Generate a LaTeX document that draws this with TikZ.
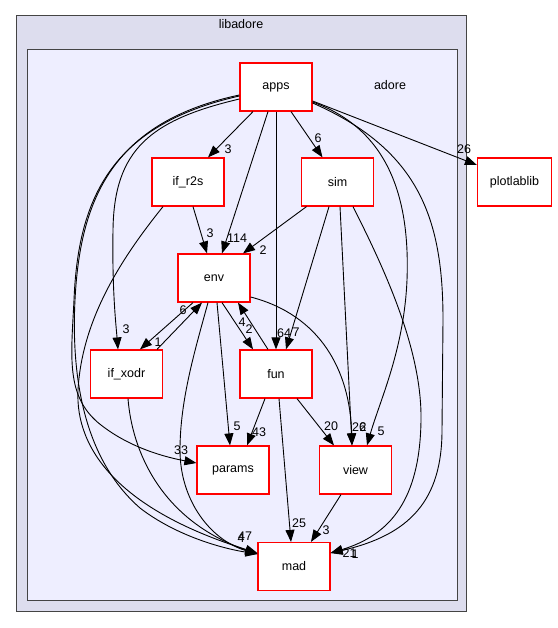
\documentclass[tikz,border=0pt]{standalone}
\usepackage{fontspec}
\setmainfont{Liberation Sans}
\usetikzlibrary{arrows.meta}
\definecolor{outerc}{HTML}{DDDDEE}
\definecolor{innerc}{HTML}{EEEEFF}
\definecolor{borderc}{HTML}{444444}
\begin{document}
\begin{tikzpicture}[x=1pt,y=-1pt,
  dnode/.style={draw=red, line width=1.2pt, fill=white, minimum width=72pt, minimum height=48pt, inner sep=0pt, font=\fontsize{12.5}{15}\selectfont},
  lbl/.style={inner sep=0pt, font=\fontsize{12.5}{15}\selectfont},
  edge/.style={draw=black, line width=0.9pt, -{Triangle[length=12pt,width=9pt]}},
  cluster/.style={draw=borderc, line width=1pt}
  ]
\useasboundingbox (0,0) rectangle (557,628);
\draw[cluster, fill=outerc] (16,16) rectangle (466,611);
\draw[cluster, fill=innerc] (27,50) rectangle (457,600);
\node[lbl] (libl) at (241,24) {libadore};
\node[lbl] (adl) at (390,85) {adore};

\node[dnode] (apps) at (276,87) {apps};
\node[dnode] (r2s) at (188,182) {if\_r2s};
\node[dnode] (sim) at (337.5,182) {sim};
\node[dnode, minimum width=74pt] (plot) at (514.5,182) {plotlablib};
\node[dnode] (env) at (214,278) {env};
\node[dnode] (xodr) at (126.5,374) {if\_xodr};
\node[dnode] (fun) at (276,374) {fun};
\node[dnode] (params) at (233,470) {params};
\node[dnode] (view) at (355.5,470) {view};
\node[dnode] (mad) at (294,566.5) {mad};

% straight edges
\draw[edge] ([xshift=-23pt]apps.south) -- ([xshift=20pt]r2s.north);
\draw[edge] ([xshift=15pt]apps.south) -- ([xshift=-15pt]sim.north);
\draw[edge] ([xshift=-8pt]apps.south) -- ([xshift=8pt]env.north);
\draw[edge] (apps.south) -- (fun.north);
\draw[edge] ([yshift=-14pt]apps.east) -- ([yshift=17pt]plot.west);
\draw[edge] ([xshift=-31pt]sim.south) -- ([xshift=29pt]env.north);
\draw[edge] ([xshift=5pt]r2s.south) -- ([xshift=-7pt]env.north);
\draw[edge] ([xshift=-8.5pt]sim.south) -- ([xshift=10pt]fun.north);
\draw[edge] ([xshift=-21pt]env.south) -- ([xshift=13.5pt]xodr.north);
\draw[edge] ([xshift=30.5pt]xodr.north) -- ([xshift=-12pt]env.south);
\draw[edge] ([xshift=8pt]env.south) -- ([xshift=-23pt]fun.north);
\draw[edge] ([xshift=-8pt]fun.north) -- ([xshift=24pt]env.south);
\draw[edge] ([xshift=3pt]env.south) -- ([xshift=-3pt]params.north);
\draw[edge] ([xshift=-11pt]fun.south) -- ([xshift=14pt]params.north);
\draw[edge] ([xshift=21pt]fun.south) -- ([xshift=-21.5pt]view.north);
\draw[edge] ([xshift=3pt]fun.south) -- ([xshift=-3pt]mad.north);
\draw[edge] ([xshift=-14.5pt]view.south) -- ([xshift=17pt]mad.north);
\draw[edge] ([xshift=2.5pt]sim.south) -- ([xshift=-3.5pt]view.north);

% curved edges
\draw[edge] ([yshift=-19pt]env.east) .. controls (320,315) and (350,370) .. ([xshift=-3.5pt]view.north);
\draw[edge] ([yshift=-15pt]apps.east) .. controls (390,130) and (410,200) .. (407,280) .. controls (404,350) and (380,400) .. ([xshift=11.5pt]view.north);
\draw[edge] ([yshift=-16pt]apps.east) .. controls (420,150) and (443,220) .. (443,320) -- (442,430) .. controls (442,500) and (410,535) .. ([yshift=13.5pt]mad.east);
\draw[edge] ([xshift=15.5pt]sim.south) .. controls (385,270) and (422,350) .. (421,420) .. controls (420,500) and (390,535) .. ([yshift=13.5pt]mad.east);
\draw[edge] ([yshift=-12pt]apps.west) .. controls (150,120) and (114,150) .. (113,230) .. controls (112,290) and (116,325) .. ([xshift=-8.5pt]xodr.north);
\draw[edge] ([yshift=-9pt]apps.west) .. controls (110,125) and (78,200) .. (74,300) .. controls (71,360) and (65,400) .. (105,428) .. controls (135,450) and (170,458) .. ([yshift=7pt]params.west);
\draw[edge] ([yshift=-8pt]apps.west) .. controls (112,122) and (80,200) .. (75,300) .. controls (71,380) and (85,460) .. (140,508) .. controls (175,535) and (220,548) .. ([yshift=12.5pt]mad.west);
\draw[edge] ([xshift=-25pt]r2s.south) .. controls (120,260) and (82,320) .. (78,390) .. controls (75,450) and (120,510) .. ([yshift=13.5pt]mad.west);
\draw[edge] ([xshift=1.5pt]xodr.south) .. controls (132,450) and (160,520) .. ([yshift=12.5pt]mad.west);
\draw[edge] ([xshift=-6pt]env.south) .. controls (195,350) and (180,400) .. (180,450) .. controls (180,500) and (210,540) .. ([yshift=12.5pt]mad.west);

% labels
\node[lbl] (l1) at (228,149) {3};
\node[lbl] (l2) at (318,138) {6};
\node[lbl] (l3) at (464,149) {26};
\node[lbl] (l4) at (237,238) {114};
\node[lbl] (l5) at (210,233) {3};
\node[lbl] (l6) at (263,250) {2};
\node[lbl] (l7) at (284,333) {64};
\node[lbl] (l8) at (296,332) {7};
\node[lbl] (l9) at (126,329) {3};
\node[lbl] (l10) at (183,310) {6};
\node[lbl] (l11) at (158,342) {1};
\node[lbl] (l12) at (242,322) {4};
\node[lbl] (l13) at (249,329) {2};
\node[lbl] (l14) at (237,426) {5};
\node[lbl] (l15) at (259,432) {43};
\node[lbl] (l16) at (331,426) {20};
\node[lbl] (l17) at (359,427) {26};
\node[lbl] (l18) at (363,427) {2};
\node[lbl] (l19) at (381,431) {5};
\node[lbl] (l20) at (299,523) {25};
\node[lbl] (l21) at (326,530) {3};
\node[lbl] (l22) at (349.5,553) {21};
\node[lbl] (l23) at (355,554) {1};
\node[lbl] (l24) at (245,536) {47};
\node[lbl] (l25) at (241,538) {4};
\node[lbl] (l26) at (181,450) {33};
\end{tikzpicture}
\end{document}
